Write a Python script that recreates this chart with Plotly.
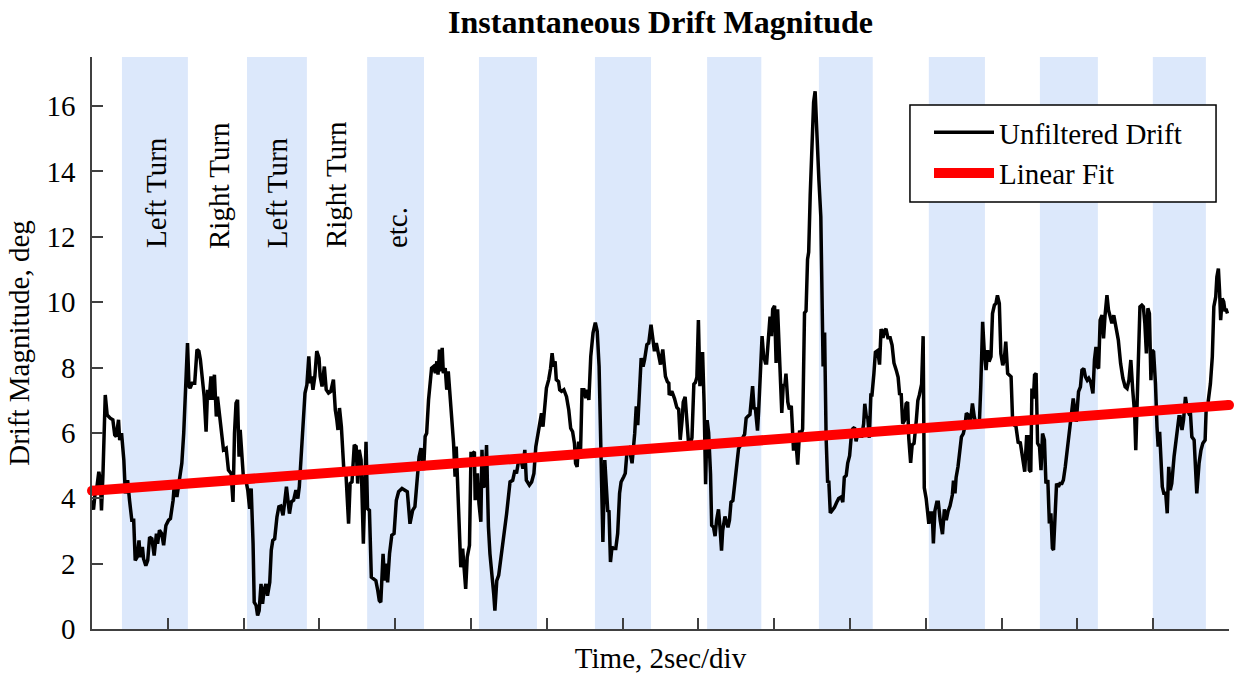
import plotly.graph_objects as go

# ---------------- data (time in seconds, drift in degrees) ----------------
seg_a_time = [
    0.00, 0.04, 0.09, 0.13, 0.18, 0.22, 0.25, 0.29, 0.35, 0.40,
    0.48, 0.55, 0.60, 0.64, 0.70, 0.73, 0.78, 0.84, 0.88, 0.94,
    0.99, 1.05, 1.10, 1.14, 1.19, 1.24, 1.27, 1.33, 1.36, 1.42,
    1.47, 1.52, 1.58, 1.64, 1.70, 1.73, 1.78, 1.84, 1.89, 1.95,
    2.02, 2.07, 2.14, 2.18, 2.24, 2.31, 2.37, 2.42, 2.46, 2.49,
    2.52, 2.56, 2.59, 2.64, 2.71, 2.77, 2.82, 2.86, 2.91, 2.96,
    3.01, 3.05, 3.09, 3.14, 3.18, 3.23, 3.28, 3.31, 3.37, 3.42,
    3.47, 3.54, 3.60, 3.67, 3.72, 3.76, 3.80, 3.84, 3.88, 3.91,
    3.96, 4.00, 4.06, 4.11, 4.16, 4.20, 4.25, 4.28, 4.33, 4.37,
    4.41, 4.46, 4.50, 4.54, 4.59, 4.63, 4.69, 4.73, 4.77, 4.82,
    4.88, 4.93, 4.98, 5.04, 5.08, 5.13, 5.17, 5.21, 5.26, 5.32,
    5.38, 5.43, 5.47, 5.51, 5.56, 5.62, 5.67, 5.72, 5.76, 5.79,
    5.83, 5.88, 5.93, 5.99, 6.02, 6.07, 6.13, 6.18, 6.24, 6.30,
    6.37, 6.42, 6.46, 6.49, 6.53, 6.58, 6.64, 6.70, 6.77, 6.81,
    6.86, 6.92, 6.97, 7.01, 7.05, 7.10, 7.16, 7.18, 7.23, 7.27,
    7.32, 7.37, 7.43, 7.49, 7.54, 7.58,
]
seg_a_deg = [
    3.94, 3.65, 4.25, 4.35, 4.81, 4.55, 3.63, 4.76, 7.16, 6.55,
    6.45, 6.40, 5.94, 5.89, 6.40, 5.78, 5.99, 5.17, 4.15, 4.55,
    3.94, 3.33, 3.33, 2.10, 2.20, 2.71, 2.20, 2.51, 2.15, 1.94,
    2.10, 2.81, 2.76, 2.25, 2.92, 2.61, 3.02, 2.92, 2.56, 3.17,
    3.33, 3.38, 3.94, 4.55, 4.04, 4.66, 5.07, 5.99, 7.11, 7.42,
    8.75, 7.42, 7.37, 7.52, 7.52, 8.55, 8.50, 8.24, 7.52, 7.11,
    6.04, 7.32, 7.01, 7.73, 7.01, 7.78, 6.50, 7.11, 6.50, 5.99,
    5.48, 5.53, 4.86, 4.76, 3.89, 5.99, 6.91, 7.01, 5.27, 6.09,
    5.17, 4.55, 4.55, 4.25, 3.68, 4.30, 2.61, 0.82, 0.72, 0.41,
    0.56, 1.38, 0.77, 1.18, 1.38, 1.02, 1.43, 2.41, 2.71, 2.76,
    3.43, 3.74, 3.76, 3.48, 3.84, 4.35, 3.94, 3.53, 3.89, 3.94,
    4.25, 3.99, 4.35, 5.17, 6.09, 7.22, 7.47, 8.34, 7.52, 7.73,
    7.32, 7.73, 8.50, 8.29, 7.73, 7.42, 8.03, 7.32, 7.22, 7.27,
    7.63, 6.70, 6.40, 6.09, 6.76, 6.19, 4.96, 4.76, 3.22, 4.45,
    4.50, 5.63, 5.58, 4.45, 5.48, 5.17, 2.61, 3.63, 5.73, 3.68,
    3.63, 1.59, 1.54, 1.48, 1.18, 0.87,
]

seg_b_time = [
    7.62, 7.68, 7.72, 7.76, 7.80, 7.85, 7.91, 7.97, 8.03, 8.09,
    8.18, 8.26, 8.32, 8.39, 8.46, 8.52, 8.57, 8.63, 8.68, 8.75,
    8.79, 8.83, 8.88, 8.92, 8.96, 9.01, 9.06, 9.10, 9.13, 9.17,
    9.20, 9.24, 9.27, 9.32, 9.36, 9.40, 9.45, 9.49, 9.54, 9.58,
    9.61, 9.64, 9.68, 9.73, 9.78, 9.82, 9.86, 9.90, 9.96, 10.00,
    10.04, 10.09, 10.11, 10.17, 10.21, 10.26, 10.29, 10.32, 10.37, 10.41,
    10.46, 10.50, 10.54, 10.60, 10.63, 10.68, 10.73, 10.78, 10.85, 10.94,
    11.03, 11.10, 11.16, 11.20, 11.26, 11.31, 11.37, 11.42, 11.46, 11.54,
    11.60, 11.66, 11.71, 11.76, 11.82, 11.86, 11.90, 11.95, 11.99, 12.05,
    12.10, 12.14, 12.18, 12.22, 12.25, 12.31, 12.34, 12.39, 12.45, 12.52,
    12.58, 12.63, 12.68, 12.73, 12.76, 12.80, 12.84, 12.89, 12.93, 12.98,
    13.03, 13.07, 13.11, 13.16, 13.22, 13.28, 13.33, 13.38, 13.42, 13.46,
    13.48, 13.53, 13.57, 13.61, 13.64, 13.68, 13.72, 13.76, 13.82, 13.87,
    13.92, 13.96, 14.03, 14.07, 14.12, 14.17, 14.21, 14.25, 14.32, 14.36,
    14.40, 14.45, 14.49, 14.54, 14.58, 14.64, 14.69, 14.75, 14.80, 14.84,
    14.89, 14.94, 15.00, 15.06, 15.13, 15.18, 15.22,
]
seg_b_deg = [
    0.82, 2.30, 1.48, 2.00, 1.43, 2.30, 2.87, 2.92, 3.94, 4.20,
    4.30, 4.25, 4.20, 3.22, 3.63, 3.74, 4.55, 5.27, 5.53, 4.86,
    5.89, 5.99, 7.01, 7.42, 7.98, 8.03, 7.83, 8.19, 7.78, 8.55,
    7.88, 8.60, 7.83, 7.98, 7.32, 7.88, 7.11, 6.50, 5.68, 4.66,
    5.58, 4.66, 3.53, 1.89, 2.46, 1.89, 1.23, 2.20, 2.56, 5.37,
    5.37, 5.42, 3.94, 4.76, 3.84, 3.28, 5.48, 4.40, 4.35, 5.63,
    3.12, 2.30, 1.89, 1.07, 0.56, 1.48, 1.64, 2.05, 2.61, 3.53,
    4.50, 4.55, 4.86, 4.76, 5.17, 5.22, 4.91, 5.48, 4.55, 4.40,
    4.50, 4.76, 5.58, 5.94, 6.29, 6.60, 6.19, 6.91, 7.37, 7.63,
    7.98, 8.44, 8.03, 8.19, 7.63, 7.57, 7.32, 7.27, 7.32, 7.11,
    6.70, 6.14, 6.04, 5.68, 5.07, 4.96, 5.73, 5.42, 7.32, 7.32,
    7.06, 7.32, 7.01, 8.34, 9.06, 9.37, 9.11, 8.03, 6.19, 3.74,
    2.66, 5.17, 4.15, 3.58, 3.63, 2.05, 2.51, 2.46, 2.46, 2.92,
    4.15, 4.50, 4.66, 4.76, 5.48, 5.53, 5.32, 5.07, 5.99, 6.81,
    6.24, 7.16, 8.29, 8.03, 8.24, 8.70, 8.75, 9.31, 8.80, 8.50,
    8.75, 8.44, 8.09, 8.55, 7.73, 7.57, 7.52,
]

seg_c_time = [
    15.23, 15.30, 15.37, 15.43, 15.48, 15.52, 15.57, 15.60, 15.65, 15.69,
    15.74, 15.78, 15.83, 15.88, 15.92, 15.96, 16.00, 16.04, 16.08, 16.11,
    16.15, 16.19, 16.23, 16.27, 16.32, 16.35, 16.40, 16.44, 16.48, 16.53,
    16.57, 16.61, 16.64, 16.70, 16.73, 16.78, 16.82, 16.86, 16.91, 16.95,
    17.01, 17.06, 17.12, 17.17, 17.22, 17.26, 17.30, 17.36, 17.43, 17.47,
    17.50, 17.56, 17.59, 17.64, 17.68, 17.72, 17.77, 17.80, 17.85, 17.89,
    17.93, 17.96, 18.01, 18.05, 18.09, 18.12, 18.16, 18.20, 18.24, 18.28,
    18.31, 18.36, 18.40, 18.45, 18.47, 18.51, 18.54, 18.58, 18.62, 18.67,
    18.71, 18.75, 18.80, 18.84, 18.88, 18.91, 18.95, 19.00, 19.04, 19.08,
    19.12, 19.18, 19.23, 19.26, 19.29, 19.33, 19.37, 19.41, 19.44, 19.48,
    19.53, 19.59, 19.65, 19.70, 19.77, 19.81, 19.85, 19.90, 19.94, 19.99,
    20.03, 20.07, 20.12, 20.16, 20.21, 20.25, 20.31, 20.36, 20.39, 20.43,
    20.47, 20.51, 20.55, 20.58, 20.63, 20.67, 20.73, 20.78, 20.82, 20.87,
    20.91, 20.95, 21.00, 21.06, 21.11, 21.16, 21.22, 21.27, 21.31, 21.35,
    21.39, 21.44, 21.48, 21.52, 21.55, 21.60, 21.64, 21.69, 21.75, 21.79,
    21.83, 21.89, 21.93, 21.96, 22.01, 22.08, 22.13, 22.17, 22.20, 22.24,
    22.29, 22.33, 22.38, 22.44, 22.49, 22.54, 22.59, 22.64, 22.70, 22.73,
    22.77, 22.80, 22.85, 22.89,
]
seg_c_deg = [
    7.16, 7.27, 7.05, 6.78, 6.72, 5.79, 6.39, 6.94, 7.10, 6.39,
    5.68, 5.63, 5.85, 7.49, 7.54, 7.70, 9.45, 7.43, 8.03, 8.47,
    6.94, 4.43, 6.39, 6.01, 4.75, 3.17, 3.11, 2.84, 3.33, 3.66,
    3.11, 2.40, 3.01, 3.44, 3.33, 3.11, 3.33, 3.88, 3.93, 4.43,
    4.97, 5.52, 5.63, 5.85, 5.96, 6.45, 6.50, 6.56, 7.43, 6.72,
    6.78, 6.07, 6.67, 8.09, 8.96, 8.36, 8.14, 8.14, 9.13, 9.56,
    8.96, 9.78, 9.89, 8.14, 9.78, 8.91, 7.81, 6.61, 7.49, 7.43,
    7.81, 6.94, 6.72, 6.83, 6.39, 5.46, 5.85, 5.63, 5.03, 6.07,
    5.96, 6.12, 9.67, 9.73, 11.31, 11.53, 13.28, 14.59, 16.12, 16.45,
    15.03, 13.72, 12.62, 10.44, 8.03, 9.07, 5.85, 4.48, 4.54, 3.55,
    3.61, 3.72, 3.88, 3.99, 4.04, 3.88, 4.64, 4.70, 5.08, 5.30,
    5.85, 6.12, 6.17, 5.74, 6.01, 5.90, 5.90, 6.28, 6.89, 6.50,
    6.45, 5.85, 7.16, 7.16, 7.81, 8.47, 8.52, 8.09, 9.18, 8.91,
    9.13, 9.18, 8.91, 8.91, 8.69, 8.14, 7.92, 7.70, 7.16, 7.21,
    6.28, 6.39, 6.89, 6.94, 5.85, 5.08, 5.63, 5.68, 6.39, 6.99,
    7.16, 7.49, 8.96, 4.32, 3.99, 3.22, 3.55, 3.55, 2.62, 3.61,
    3.88, 3.88, 3.33, 2.90, 3.66, 3.33, 3.61, 3.77, 4.10, 4.54,
    4.15, 4.64, 4.97, 5.41,
]

seg_d_time = [
    22.90, 22.94, 22.99, 23.03, 23.07, 23.13, 23.17, 23.23, 23.28, 23.32,
    23.37, 23.41, 23.45, 23.50, 23.54, 23.59, 23.63, 23.67, 23.72, 23.76,
    23.81, 23.85, 23.89, 23.94, 23.98, 24.03, 24.07, 24.11, 24.16, 24.20,
    24.25, 24.29, 24.33, 24.38, 24.44, 24.49, 24.56, 24.61, 24.66, 24.70,
    24.73, 24.77, 24.80, 24.84, 24.87, 24.91, 24.95, 25.00, 25.04, 25.08,
    25.13, 25.17, 25.22, 25.26, 25.30, 25.34, 25.37, 25.42, 25.45, 25.50,
    25.54, 25.59, 25.63, 25.68, 25.74, 25.81, 25.86, 25.89, 25.93, 25.97,
    26.03, 26.08, 26.12, 26.17, 26.21, 26.26, 26.30, 26.35, 26.41, 26.45,
    26.49, 26.53, 26.56, 26.60, 26.65, 26.69, 26.73, 26.78, 26.82, 26.86,
    26.91, 26.96, 27.02, 27.08, 27.14, 27.20, 27.26, 27.31, 27.36, 27.41,
    27.46, 27.51, 27.54, 27.58, 27.61, 27.65, 27.70, 27.74, 27.78, 27.82,
    27.86, 27.90, 27.94, 27.97, 28.01, 28.06, 28.10, 28.13, 28.17, 28.21,
    28.24, 28.28, 28.33, 28.37, 28.41, 28.45, 28.49, 28.55, 28.59, 28.63,
    28.68, 28.71, 28.76, 28.80, 28.85, 28.90, 28.94, 28.98, 29.02, 29.08,
    29.12, 29.15, 29.21, 29.26, 29.31, 29.37, 29.40, 29.45, 29.51, 29.56,
    29.60, 29.65, 29.68, 29.72, 29.75, 29.78, 29.82, 29.86, 29.89, 29.93,
    29.96,
]
seg_d_deg = [
    5.37, 5.88, 5.98, 6.19, 6.60, 6.54, 6.24, 6.90, 6.49, 6.29,
    6.39, 6.19, 7.41, 9.40, 8.53, 7.92, 8.53, 8.18, 8.33, 9.65,
    9.91, 9.96, 10.21, 9.96, 8.43, 8.07, 8.23, 8.79, 7.82, 7.77,
    7.72, 6.39, 6.24, 6.19, 5.68, 5.73, 5.17, 4.81, 5.88, 5.88,
    4.86, 4.81, 7.36, 7.05, 7.77, 7.82, 5.68, 5.58, 4.86, 5.98,
    5.78, 4.45, 4.56, 3.23, 3.54, 2.47, 2.42, 3.44, 4.45, 4.35,
    4.45, 4.45, 4.56, 4.96, 5.58, 6.24, 6.65, 7.05, 6.70, 6.34,
    7.26, 7.41, 7.92, 7.97, 7.72, 7.61, 7.67, 7.56, 7.21, 8.23,
    8.63, 8.02, 7.97, 9.45, 9.60, 8.89, 9.60, 10.21, 9.76, 9.55,
    9.35, 9.60, 9.19, 8.84, 8.12, 7.67, 7.41, 7.36, 7.61, 8.23,
    7.31, 6.60, 5.47, 6.90, 8.12, 9.86, 9.91, 9.86, 9.35, 8.43,
    9.81, 9.65, 7.61, 8.53, 8.48, 7.51, 6.19, 5.58, 6.03, 5.27,
    4.35, 4.15, 4.15, 3.54, 4.96, 4.25, 4.45, 5.27, 5.68, 5.98,
    6.49, 6.49, 6.09, 6.39, 7.10, 6.70, 6.60, 6.65, 5.88, 5.78,
    4.86, 4.15, 5.07, 5.47, 5.68, 5.78, 6.80, 6.95, 7.51, 8.33,
    9.86, 10.16, 10.77, 11.03, 10.37, 9.45, 10.11, 10.01, 9.76, 9.76,
    9.65,
]

fit_time = [0.0, 30.0]
fit_deg = [4.23, 6.85]

band_start = [0.79, 4.09, 7.26, 10.21, 13.27, 16.23, 19.18, 22.08, 25.01, 27.99]
band_end = [2.53, 5.67, 8.76, 11.74, 14.75, 17.66, 20.60, 23.56, 26.54, 29.39]

label_text = ["Left Turn", "Right Turn", "Left Turn", "Right Turn", "etc."]
label_time = [1.69, 3.35, 4.89, 6.44, 8.05]
label_base = 11.58

y_ticks = [0, 2, 4, 6, 8, 10, 12, 14, 16]
x_ticks = [2 * k for k in range(1, 16)]

# ---------------- figure ----------------
drift_time = seg_a_time + seg_b_time + seg_c_time + seg_d_time
drift_deg = seg_a_deg + seg_b_deg + seg_c_deg + seg_d_deg

FONT = "Liberation Serif, Times New Roman, serif"
AX = "#404040"

fig = go.Figure()

for s, e in zip(band_start, band_end):
    fig.add_vrect(x0=s, x1=e, fillcolor="#dce8fb", opacity=1,
                  line_width=0, layer="below")

fig.add_trace(go.Scatter(
    x=drift_time, y=drift_deg, mode="lines", name="Unfiltered Drift",
    line=dict(color="black", width=3.5)))
fig.add_trace(go.Scatter(
    x=fit_time, y=fit_deg, mode="lines", name="Linear Fit",
    line=dict(color="#ff0000", width=10)))
fig.add_trace(go.Scatter(
    x=fit_time, y=fit_deg, mode="markers", showlegend=False,
    marker=dict(color="#ff0000", size=10, line=dict(width=0)),
    cliponaxis=False, hoverinfo="skip"))

for txt, t in zip(label_text, label_time):
    fig.add_annotation(x=t, y=label_base, text=txt, textangle=-90,
                       xanchor="center", yanchor="bottom", showarrow=False,
                       font=dict(family=FONT, size=29, color="black"))

# legend frame (white box with black border) behind the legend entries
fig.add_shape(type="rect", xref="paper", yref="paper",
              x0=0.7194, x1=0.9886, y0=0.7465, y1=0.9161,
              fillcolor="white", line=dict(color="black", width=1.5),
              layer="above")

fig.update_layout(
    width=1248, height=674,
    margin=dict(l=92, r=19, t=57, b=45, pad=0, autoexpand=False),
    paper_bgcolor="white", plot_bgcolor="white",
    font=dict(family=FONT, size=29, color="black"),
    title=dict(text="Instantaneous Drift Magnitude", x=0.5, xref="paper",
               xanchor="center", y=1 - 22 / 674, yref="container",
               yanchor="middle",
               font=dict(family=FONT, size=32, color="black", weight="bold")),
    showlegend=True,
    legend=dict(x=(929 - 92) / 1137, y=(629 - 107) / 572,
                xanchor="left", yanchor="top",
                bgcolor="rgba(0,0,0,0)", borderwidth=0,
                font=dict(family=FONT, size=29, color="black"),
                itemwidth=60),
    xaxis=dict(range=[0, 30], tickmode="array", tickvals=x_ticks,
               ticks="inside", ticklen=11, tickwidth=1.5, tickcolor=AX,
               showticklabels=False, showline=True, linecolor=AX,
               linewidth=1.5, showgrid=False, zeroline=False,
               automargin=False,
               title=dict(text="Time, 2sec/div", standoff=18,
                          font=dict(family=FONT, size=29))),
    yaxis=dict(range=[0, 17.5], tickmode="array", tickvals=y_ticks,
               ticks="inside", ticklen=11, tickwidth=1.5, tickcolor=AX,
               ticklabelstandoff=9, showline=True, linecolor=AX,
               linewidth=1.5, showgrid=False, zeroline=False,
               automargin=False,
               tickfont=dict(family=FONT, size=29),
               title=dict(text="Drift Magnitude, deg", standoff=8,
                          font=dict(family=FONT, size=29))),
)

fig.write_html("out.html")
